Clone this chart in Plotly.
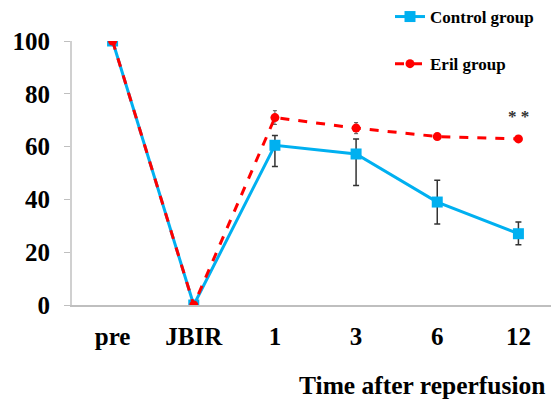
import plotly.graph_objects as go

categories = ["pre", "JBIR", "1", "3", "6", "12"]
control = [100, 0, 60.5, 57.2, 39.0, 27.0]
control_err_up = [0, 0, 3.7, 5.7, 8.3, 4.4]
control_err_down = [0, 0, 8.0, 11.9, 8.3, 4.2]
eril = [100, 0, 71.0, 67.0, 63.8, 62.9]
eril_err = [0, 0, 2.6, 2.1, 0, 0]
y_ticks = [0, 20, 40, 60, 80, 100]

FONT = "Liberation Serif"
# page body has an 8px default margin; figure is sized/shifted to compensate
OFF = 8

fig = go.Figure()
fig.add_trace(go.Scatter(
    x=categories, y=control, name="Control group", mode="lines+markers",
    line=dict(color="#00B0F0", width=3),
    marker=dict(symbol="square", size=11, color="#00B0F0"),
    error_y=dict(type="data", symmetric=False, array=control_err_up,
                 arrayminus=control_err_down, color="#333333", thickness=1.5, width=3),
    legendgroup="a",
))
fig.add_trace(go.Scatter(
    x=categories, y=eril, name="Eril group", mode="lines+markers",
    line=dict(color="#FF0000", width=3, dash="dash"),
    marker=dict(symbol="circle", size=9, color="#FF0000"),
    error_y=dict(type="data", array=eril_err, color="#555555", thickness=1, width=2),
    legendgroup="b",
))

fig.add_annotation(x=categories.index("12"), y=71.5, text="* *", showarrow=False,
                   font=dict(family=FONT, size=17, color="#333333"),
                   xref="x", yref="y")
fig.add_annotation(x=(547 - 72) / 487, y=(305 - 385) / 264, xref="paper", yref="paper",
                   text="Time after reperfusion",
                   showarrow=False, xanchor="right", yanchor="middle",
                   font=dict(family=FONT, size=25.5, color="black", weight="bold"))

fig.update_layout(
    width=559 - OFF, height=404 - OFF,
    margin=dict(l=72 - OFF, r=0, t=41 - OFF, b=99, autoexpand=False),
    paper_bgcolor="white", plot_bgcolor="white",
    font=dict(family=FONT, size=20, color="black", weight="bold"),
    showlegend=True,
    legend=dict(x=(390 - 72) / 487, y=(305 + 1) / 264,
                xanchor="left", yanchor="top",
                font=dict(family=FONT, size=17, color="black", weight="bold"),
                tracegroupgap=22, bgcolor="rgba(0,0,0,0)"),
    xaxis=dict(type="category", range=[-0.5, len(categories) - 0.5], showgrid=False,
               showline=True, linecolor="#BFBFBF", tickangle=0, automargin=False,
               linewidth=1.5, ticks="", ticklabelstandoff=8,
               tickfont=dict(family=FONT, size=25, color="black", weight="bold")),
    yaxis=dict(range=[0, 100], tickvals=y_ticks, showgrid=False, showline=True,
               linecolor="#D0D0D0", linewidth=2, ticks="outside", ticklen=6,
               tickcolor="#BFBFBF", ticklabelstandoff=9, zeroline=False, automargin=False,
               tickfont=dict(family=FONT, size=25, color="black", weight="bold")),
)

fig.write_html("out.html")
